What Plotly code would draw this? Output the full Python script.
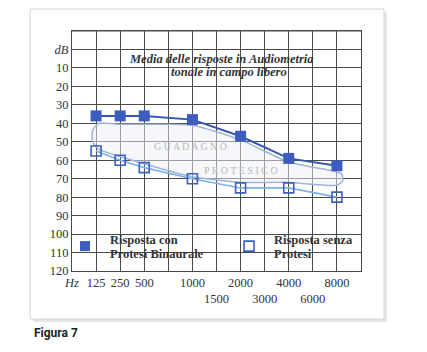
import plotly.graph_objects as go

# ---- data ----
col_freqs = [None, 125, 250, 500, 750, 1000, 1500, 2000, 3000, 4000, 6000, 8000]
tick_labels = ["<i>Hz</i>", "125", "250", "500", "", "1000", "<br>1500", "2000",
               "<br>3000", "4000", "<br>6000", "8000"]
freqs = [125, 250, 500, 1000, 2000, 4000, 8000]
con_protesi = [36, 36, 36, 38, 47, 59, 63]
senza_protesi = [55, 60, 64, 70, 75, 75, 80]
y_ticks = [0, 10, 20, 30, 40, 50, 60, 70, 80, 90, 100, 110, 120]
y_ticktext = ["<i>dB</i>"] + [str(v) for v in y_ticks[1:]]
# gain band outline (column index, dB)
band_x = [1.1, 2, 3, 5, 7, 9, 10.9, 11.2, 11.25, 11.0, 9, 7, 5, 3, 2, 1.1, 0.85, 0.85, 1.1]
band_y = [40, 40.5, 40.5, 41, 49, 61, 66, 67.5, 71, 73.5, 72, 72, 69, 62, 58, 54, 50, 44, 40]

W, H = 427, 352
def colx(f):
    return col_freqs.index(f)

xs = [colx(f) for f in freqs]

fig = go.Figure()

fig.add_trace(go.Scatter(x=band_x, y=band_y, mode="lines", fill="toself",
                         fillcolor="rgba(238,240,246,0.5)",
                         line=dict(color="#9FB3D9", width=1.5, shape="spline", smoothing=0.6),
                         hoverinfo="skip"))
fig.add_trace(go.Scatter(x=xs, y=senza_protesi, mode="lines+markers",
                         line=dict(color="#7FB2E6", width=1.6),
                         marker=dict(symbol="square-open", size=10, color="#3D5FC0",
                                     line=dict(width=1.6, color="#3D5FC0"))))
fig.add_trace(go.Scatter(x=xs, y=con_protesi, mode="lines+markers",
                         line=dict(color="#3456B0", width=2),
                         marker=dict(symbol="square", size=11, color="#3D5CC0")))
# legend markers
fig.add_trace(go.Scatter(x=[0.54], y=[106.5], mode="markers",
                         marker=dict(symbol="square", size=10, color="#3D5CC0")))
fig.add_trace(go.Scatter(x=[7.35], y=[106.5], mode="markers",
                         marker=dict(symbol="square-open", size=10, color="#3D5FC0",
                                     line=dict(width=1.6, color="#3D5FC0"))))

serif = "Liberation Serif"
txt = "#333333"
ann = []
def a(x, y, text, size=12, color=txt, xanchor="center", **kw):
    ann.append(dict(x=x, y=y, xref="x", yref="y", text=text, showarrow=False,
                    xanchor=xanchor, yanchor="middle",
                    font=dict(family=serif, size=size, color=color), **kw))

a(6.19, 5.3, "<b><i>Media delle risposte in Audiometria</i></b>", 12.5)
a(6.5, 12.3, "<b><i>tonale in campo libero</i></b>", 12.5)
a(4.9, 52.3, "G U A D A G N O", 10, "#B8B8B8")
a(7.0, 65.5, "P R O T E S I C O", 10, "#B8B8B8")
a(1.5, 103, "<b>Risposta con</b>", 12.5, xanchor="left")
a(1.5, 111, "<b>Protesi Binaurale</b>", 12.5, xanchor="left")
a(8.3, 103, "<b>Risposta senza</b>", 12.5, xanchor="left")
a(8.3, 111, "<b>Protesi</b>", 12.5, xanchor="left")

ann.append(dict(x=32 / W, y=1 - 333 / H, xref="paper", yref="paper", text="<b>Figura 7</b>",
                showarrow=False, xanchor="left", yanchor="middle",
                font=dict(family="Roboto", size=12, color="#222")))

shapes = [
    dict(type="rect", xref="paper", yref="paper", x0=33 / W, x1=387 / W,
         y0=1 - 322 / H, y1=1 - 12 / H, line=dict(width=0), fillcolor="#e6e6e6", layer="below"),
    dict(type="rect", xref="paper", yref="paper", x0=30 / W, x1=384 / W,
         y0=1 - 319 / H, y1=1 - 9 / H, line=dict(width=1, color="#d4d4d4"),
         fillcolor="white", layer="below"),
]

fig.update_layout(
    width=W, height=H, autosize=False,
    margin=dict(l=0, r=0, t=0, b=0),
    paper_bgcolor="white", plot_bgcolor="rgba(0,0,0,0)",
    showlegend=False, annotations=ann, shapes=shapes,
    xaxis=dict(domain=[72 / W, 361 / W], range=[0, 12], tickmode="array",
               tickvals=list(range(12)), ticktext=tick_labels, tickangle=0,
               automargin=False,
               showgrid=True, gridcolor="#4a4a4a", gridwidth=1.2,
               showline=True, mirror=True, linecolor="#4a4a4a", linewidth=1.2,
               zeroline=False, ticks="", anchor="y",
               tickfont=dict(family=serif, size=12.5, color=txt)),
    yaxis=dict(domain=[1 - 271 / H, 1 - 31 / H], range=[120, -10], tickmode="array",
               tickvals=y_ticks, ticktext=y_ticktext, automargin=False,
               showgrid=True, gridcolor="#4a4a4a", gridwidth=1.2,
               showline=True, mirror=True, linecolor="#4a4a4a", linewidth=1.2,
               zeroline=False, ticks="", anchor="x",
               tickfont=dict(family=serif, size=12.5, color=txt)),
)
fig.add_hline(y=-10, line=dict(color="#4a4a4a", width=1.2))

fig.write_html("out.html")
